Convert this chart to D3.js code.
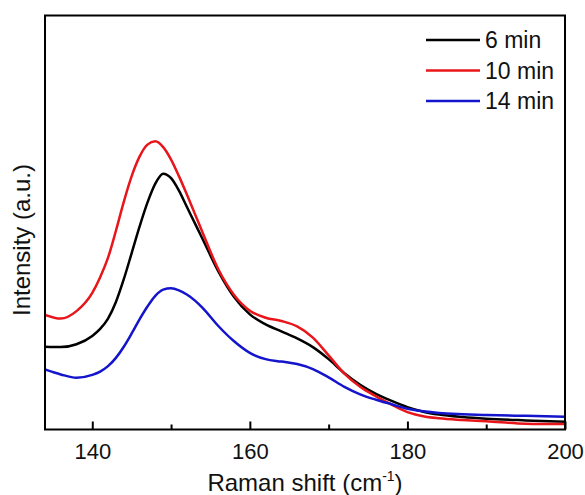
<!DOCTYPE html>
<html>
<head>
<meta charset="utf-8">
<script src="https://cdn.jsdelivr.net/npm/d3@7"></script>
<style>
  html, body { margin: 0; padding: 0; background: #fff; }
  svg { display: block; font-family: "Liberation Sans", Arial, sans-serif; }
</style>
</head>
<body>
<svg id="chart" width="585" height="495"></svg>
<script>
// Raman shift grid (cm^-1) shared by all spectra
const shift = [134, 136, 138, 140, 141, 142, 143, 144, 145, 146, 147, 148, 149, 150, 151, 152, 153, 154,
               156, 158, 160, 162, 164, 166, 168, 170, 172, 174, 176, 178, 180, 182, 184, 187, 190, 195, 200];

// Intensities in arbitrary units
const min6  = [20.0, 19.9, 20.6, 22.6, 24.3, 26.8, 30.8, 36.3, 42.6, 49.0, 54.8, 59.4, 61.8, 60.7, 57.7, 53.8, 49.9, 46.0,
               38.2, 32.0, 27.8, 25.4, 23.7, 22.0, 19.9, 17.0, 13.6, 10.8, 8.6, 6.9, 5.4, 4.3, 3.6, 3.0, 2.6, 2.2, 1.9];
const min10 = [27.7, 26.8, 28.6, 33.0, 36.8, 41.5, 48.0, 55.0, 61.2, 65.9, 68.8, 69.6, 68.2, 65.2, 61.2, 56.8, 52.2, 47.6,
               38.7, 32.5, 28.7, 27.0, 26.2, 24.9, 22.2, 17.9, 13.5, 10.3, 8.0, 6.0, 4.2, 3.2, 2.7, 2.3, 2.0, 1.4, 1.3];
const min14 = [14.5, 13.3, 12.5, 13.2, 14.0, 15.3, 17.3, 20.0, 23.2, 26.6, 29.7, 32.3, 33.8, 34.1, 33.6, 32.6, 31.2, 29.4,
               25.0, 21.3, 18.5, 17.0, 16.4, 15.8, 14.6, 12.6, 10.3, 8.5, 7.2, 6.1, 5.0, 4.4, 4.0, 3.7, 3.5, 3.3, 3.1];

const seriesNames  = ["6 min", "10 min", "14 min"];
const seriesValues = [min6, min10, min14];
const seriesColors = ["#000000", "#e8161b", "#1414cc"];

const majorTicks = [140, 160, 180, 200];
const minorTicks = [150, 170, 190];

const plotLeft = 45, plotRight = 565, plotTop = 15.5, plotBottom = 429.5;

const svg = d3.select("#chart");

const x = d3.scaleLinear().domain([134, 200]).range([plotLeft, plotRight]);
const y = d3.scaleLinear().domain([0, 100]).range([plotBottom, plotTop]);

// clip spectra to the plot frame
svg.append("defs").append("clipPath").attr("id", "plot-clip")
  .append("rect").attr("x", plotLeft).attr("y", plotTop)
  .attr("width", plotRight - plotLeft).attr("height", plotBottom - plotTop);

const line = d3.line()
  .x((d, i) => x(shift[i]))
  .y(d => y(d))
  .curve(d3.curveMonotoneX);

const curves = svg.append("g").attr("clip-path", "url(#plot-clip)");
seriesValues.forEach((vals, k) => {
  curves.append("path")
    .datum(vals)
    .attr("d", line)
    .attr("fill", "none")
    .attr("stroke", seriesColors[k])
    .attr("stroke-width", 2.5)
    .attr("stroke-linejoin", "round");
});

// bottom axis: inward major ticks with labels, shorter minor ticks
const xMajor = d3.axisBottom(x).tickValues(majorTicks).tickSize(-8).tickPadding(14)
  .tickFormat(d3.format("d"));
const gx = svg.append("g").attr("transform", `translate(0,${plotBottom})`).call(xMajor);
gx.select(".domain").remove();
gx.selectAll(".tick line").attr("stroke", "#000").attr("stroke-width", 2);
gx.selectAll(".tick text").attr("font-size", 22).attr("fill", "#111")
  .attr("font-family", "'Liberation Sans', Arial, sans-serif");

const xMinor = d3.axisBottom(x).tickValues(minorTicks).tickSize(-5).tickFormat("");
const gxm = svg.append("g").attr("transform", `translate(0,${plotBottom})`).call(xMinor);
gxm.select(".domain").remove();
gxm.selectAll(".tick line").attr("stroke", "#000").attr("stroke-width", 2);

// frame
svg.append("rect")
  .attr("x", plotLeft).attr("y", plotTop)
  .attr("width", plotRight - plotLeft).attr("height", plotBottom - plotTop)
  .attr("fill", "none").attr("stroke", "#000").attr("stroke-width", 2);

// axis titles
const xt = svg.append("text")
  .attr("x", (plotLeft + plotRight) / 2).attr("y", 491)
  .attr("text-anchor", "middle").attr("font-size", 24).attr("fill", "#111");
xt.append("tspan").text("Raman shift (cm");
xt.append("tspan").attr("font-size", 14).attr("dy", -10).text("-1");
xt.append("tspan").attr("dy", 10).text(")");

svg.append("text")
  .attr("transform", "translate(30,240) rotate(-90)")
  .attr("text-anchor", "middle").attr("font-size", 24).attr("fill", "#111")
  .text("Intensity (a.u.)");

// legend
const legendY = [40, 70.5, 101];
const legend = svg.append("g");
seriesNames.forEach((name, k) => {
  legend.append("line")
    .attr("x1", 426).attr("x2", 480)
    .attr("y1", legendY[k]).attr("y2", legendY[k])
    .attr("stroke", seriesColors[k]).attr("stroke-width", 2.5);
  legend.append("text")
    .attr("x", 485).attr("y", legendY[k] + 8)
    .attr("font-size", 23).attr("fill", "#111")
    .text(name);
});
</script>
</body>
</html>
